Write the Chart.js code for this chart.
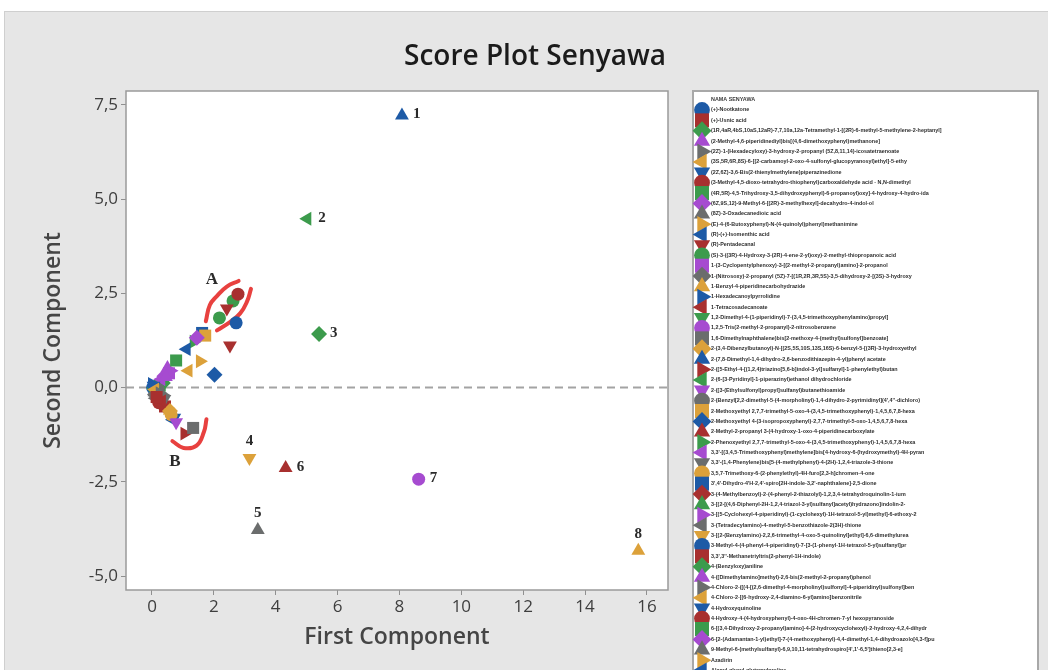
<!DOCTYPE html>
<html>
<head>
<meta charset="utf-8">
<script src="https://cdn.jsdelivr.net/npm/chart.js@4.4.1/dist/chart.umd.min.js"></script>
<style>
  html, body { margin: 0; padding: 0; background: #fff; }
  #wrap { width: 1048px; height: 670px; position: relative; }
</style>
</head>
<body>
<div id="wrap"><canvas id="scorePlot" width="1048" height="670"></canvas></div>
<script>
// compound names (legend "NAMA SENYAWA"), one point each
const compoundNames = [
  '(+)-Nootkatone',
  '(+)-Usnic acid',
  '(1R,4aR,4bS,10aS,12aR)-7,7,10a,12a-Tetramethyl-1-[(2R)-6-methyl-5-methylene-2-heptanyl]',
  '(2-Methyl-4,6-piperidinediyl)bis[(4,6-dimethoxyphenyl)methanone]',
  '(2Z)-1-(Hexadecyloxy)-3-hydroxy-2-propanyl (5Z,8,11,14)-icosatetraenoate',
  '(3S,5R,6R,8S)-6-[(2-carbamoyl-2-oxo-4-sulfonyl-glucopyranosyl)ethyl]-5-ethy',
  '(2Z,6Z)-3,6-Bis(2-thienylmethylene)piperazinedione',
  '(3-Methyl-4,5-dioxo-tetrahydro-thiophenyl)carboxaldehyde acid - N,N-dimethyl',
  '(4R,5R)-4,5-Trihydroxy-3,5-dihydroxyphenyl)-6-propanoyl)oxy]-4-hydroxy-4-hydro-ida',
  '(6Z,9S,12)-9-Methyl-6-[(2R)-3-methylhexyl]-decahydro-4-indol-ol',
  '(8Z)-3-Oxadecanedioic acid',
  '(E)-4-(6-Butoxyphenyl)-N-(4-quinolyl)phenyl)methanimine',
  '(R)-(+)-Isomenthic acid',
  '(R)-Pentadecanal',
  '(S)-3-((3R)-4-Hydroxy-3-(2R)-4-ene-2-yl)oxy)-2-methyl-thiopropanoic acid',
  '1-(3-Cyclopentylphenoxy)-3-[(2-methyl-2-propanyl)amino]-2-propanol',
  '1-(Nitrosoxy)-2-propanyl (5Z)-7-[(1R,2R,3R,5S)-3,5-dihydroxy-2-[(3S)-3-hydroxy',
  '1-Benzyl-4-piperidinecarbohydrazide',
  '1-Hexadecanoylpyrrolidine',
  '1-Tetracosadecanoate',
  '1,2-Dimethyl-4-(1-piperidinyl)-7-(3,4,5-trimethoxyphenylamino)propyl]',
  '1,2,5-Tris(2-methyl-2-propanyl)-2-nitrosobenzene',
  '1,6-Dimethylnaphthalene)bis[2-methoxy-4-(methyl)sulfonyl]benzoate]',
  '2-(3,4-Dibenzylbutanoyl)-N-[(2S,5S,10S,13S,16S)-6-benzyl-5-[(3R)-3-hydroxyethyl',
  '2-(7,8-Dimethyl-1,4-dihydro-2,6-benzodithiazepin-4-yl)phenyl acetate',
  '2-([5-Ethyl-4-[(1,2,4)triazino[5,6-b]indol-3-yl]sulfanyl]-1-phenylethyl)butan',
  '2-(6-[3-Pyridinyl]-1-piperazinyl)ethanol dihydrochloride',
  '2-([3-(Ethylsulfonyl)propyl]sulfanyl)butanethioamide',
  '2-(Benzyl[2,2-dimethyl-5-(4-morpholinyl)-1,4-dihydro-2-pyrimidinyl](4\',4\'\'-dichloro)',
  '2-Methoxyethyl 2,7,7-trimethyl-5-oxo-4-(3,4,5-trimethoxyphenyl)-1,4,5,6,7,8-hexa',
  '2-Methoxyethyl 4-(3-isopropoxyphenyl)-2,7,7-trimethyl-5-oxo-1,4,5,6,7,8-hexa',
  '2-Methyl-2-propanyl 3-(4-hydroxy-1-oxo-4-piperidinecarboxylate',
  '2-Phenoxyethyl 2,7,7-trimethyl-5-oxo-4-(3,4,5-trimethoxyphenyl)-1,4,5,6,7,8-hexa',
  '3,3\'-[(3,4,5-Trimethoxyphenyl)methylene]bis[4-hydroxy-6-(hydroxymethyl)-4H-pyran',
  '3,3\'-(1,4-Phenylene)bis[5-(4-methylphenyl)-4-(2H)-1,2,4-triazole-3-thione',
  '3,5,7-Trimethoxy-6-(2-phenylethyl)-4H-furo[2,3-h]chromen-4-one',
  '3\',4\'-Dihydro-4\'H-2,4\'-spiro[2H-indole-3,2\'-naphthalene]-2,5-dione',
  '3-(4-Methylbenzoyl)-2-(4-phenyl-2-thiazolyl)-1,2,3,4-tetrahydroquinolin-1-ium',
  '3-[(2-[(4,6-Diphenyl-2H-1,2,4-triazol-3-yl)sulfanyl]acetyl)hydrazono]indolin-2-',
  '3-[(5-Cyclohexyl-4-piperidinyl)-(1-cyclohexyl)-1H-tetrazol-5-yl)methyl]-6-ethoxy-2',
  '3-(Tetradecylamino)-4-methyl-5-benzothiazole-2(3H)-thione',
  '3-[(2-(Benzylamino)-2,2,6-trimethyl-4-oxo-5-quinolinyl]ethyl]-6,6-dimethylurea',
  '3-Methyl-4-(4-phenyl-4-piperidinyl)-7-[3-(1-phenyl-1H-tetrazol-5-yl)sulfanyl]pr',
  '3,3\',3\'\'-Methanetriyltris(2-phenyl-1H-indole)',
  '4-(Benzyloxy)aniline',
  '4-([Dimethylamino]methyl)-2,6-bis(2-methyl-2-propanyl)phenol',
  '4-Chloro-2-([(4-[(2,6-dimethyl-4-morpholinyl)sulfonyl]-4-piperidinyl)sulfonyl]ben',
  '4-Chloro-2-[(6-hydroxy-2,4-diamino-6-yl)amino]benzonitrile',
  '4-Hydroxyquinoline',
  '4-Hydroxy-4-(4-hydroxyphenyl)-4-oxo-4H-chromen-7-yl hexopyranoside',
  '6-[(3,4-Dihydroxy-2-propanyl)amino]-4-(2-hydroxycyclohexyl)-2-hydroxy-4,2,4-dihydr',
  '6-[2-(Adamantan-1-yl)ethyl]-7-(4-methoxyphenyl)-4,4-dimethyl-1,4-dihydroazolo[4,3-f]pu',
  '9-Methyl-6-(methylsulfanyl)-6,9,10,11-tetrahydrospiro[4\',1\'-6,5\']thieno[2,3-e]',
  'Azadirin',
  'Alanyl-glycyl-glutamylproline',
  'Anonaine',
  'Arecaidine'
];

// First Component scores
const pc1 = [
  2.72, 0.15, 5.40, 0.45, 0.25, 0.10, 0.05, 2.78, 0.78, 1.45,
  3.42, 1.55, 1.12, 2.42, 2.62, 0.55, 0.10, 15.72, 0.00, 0.32,
  0.05, 8.62, 1.33, 0.58, 8.08, 1.05, 5.02, 0.78, 0.20, 1.72,
  2.02, 4.32, 1.35, 0.30, 0.40, 0.62, 1.62, 0.30, 0.15, 0.60,
  0.12, 3.15, 0.02, 0.42, 0.35, 0.50, 0.35, 1.18, 0.72, 0.22,
  0.25, 0.40, 0.08, 0.50, 0.68, 2.52, 2.18
];

// Second Component scores
const pc2 = [
  1.72, -0.25, 1.42, 0.28, -0.15, -0.05, 0.05, 2.48, 0.72, 1.32,
  -3.78, 0.70, 1.02, 2.10, 2.30, 0.38, -0.18, -4.33, 0.10, -0.35,
  -0.10, -2.43, -1.07, -0.62, 7.22, -1.22, 4.48, -0.92, -0.05, 1.38,
  0.34, -2.13, 1.22, 0.22, -0.30, -0.72, 1.45, -0.42, 0.05, 0.45,
  -0.28, -1.87, 0.00, -0.50, 0.12, 0.52, -0.20, 0.45, -0.80, -0.40,
  0.05, 0.30, -0.12, -0.55, -0.85, 1.12, 1.85
];

// numbered outliers
const outlierText = ['1', '2', '3', '4', '5', '6', '7', '8'];
const outlierIndex = [24, 26, 2, 41, 10, 31, 21, 17];
const outlierSide = ['right', 'right', 'right', 'above', 'above', 'right', 'right', 'above'];

// hand marked groups
const groupText = ['A', 'B'];
const groupX = [1.94, 0.74];
const groupY = [2.86, -1.96];
const markA1x = [1.74, 1.87, 2.09, 2.42, 2.80];
const markA1y = [1.76, 2.19, 2.42, 2.68, 2.83];
const markA2x = [2.10, 2.52, 2.85, 3.07, 3.20];
const markA2y = [1.52, 1.74, 1.97, 2.28, 2.62];
const markBx = [0.66, 1.02, 1.44, 1.68, 1.76];
const markBy = [-1.42, -1.60, -1.54, -1.17, -0.84];

const xTickValues = [0, 2, 4, 6, 8, 10, 12, 14, 16];
const yTickValues = [-5, -2.5, 0, 2.5, 5, 7.5];

// minitab style cycle
const palette = ['#1d5aa6', '#a8302f', '#3c9b4c', '#a64bd0', '#6b6d6d', '#dca13a'];
const shapes = [
  { style: 'circle', rot: 0, r: 6.5 },
  { style: 'rect', rot: 0, r: 8.5 },
  { style: 'rectRot', rot: 0, r: 8 },
  { style: 'triangle', rot: 0, r: 8 },
  { style: 'triangle', rot: 90, r: 8 },
  { style: 'triangle', rot: 270, r: 8 },
  { style: 'triangle', rot: 180, r: 8 }
];

const datasets = [];
for (let i = 0; i < compoundNames.length; i++) {
  const shp = shapes[i % shapes.length];
  const col = palette[i % palette.length];
  datasets.push({
    label: compoundNames[i],
    data: [{ x: pc1[i], y: pc2[i] }],
    pointStyle: shp.style,
    pointRotation: shp.rot,
    pointRadius: shp.r,
    pointHoverRadius: shp.r,
    pointBackgroundColor: col,
    pointBorderWidth: 0,
    backgroundColor: col,
    borderColor: col
  });
}

function markLine(xs, ys) {
  return {
    label: '',
    isMark: true,
    data: xs.map((v, k) => ({ x: v, y: ys[k] })),
    showLine: true,
    tension: 0.45,
    borderColor: '#e8413f',
    borderWidth: 4,
    borderCapStyle: 'round',
    pointRadius: 0,
    pointHoverRadius: 0
  };
}
datasets.push(markLine(markA1x, markA1y));
datasets.push(markLine(markA2x, markA2y));
datasets.push(markLine(markBx, markBy));

const backdrop = {
  id: 'backdrop',
  beforeDraw(chart) {
    const { ctx, chartArea: a } = chart;
    ctx.save();
    ctx.fillStyle = '#ffffff';
    ctx.fillRect(0, 0, chart.width, chart.height);
    ctx.fillStyle = '#e6e6e6';
    ctx.fillRect(4, 11, chart.width - 4, chart.height - 11);
    ctx.strokeStyle = '#cfcfcf';
    ctx.lineWidth = 1;
    ctx.strokeRect(4.5, 11.5, chart.width, chart.height);
    ctx.fillStyle = '#ffffff';
    ctx.fillRect(a.left, a.top, a.right - a.left, a.bottom - a.top);

    ctx.fillStyle = '#1b1b1b';
    ctx.font = '600 28px "Open Sans"';
    ctx.textAlign = 'center';
    ctx.textBaseline = 'middle';
    ctx.fillText('Score Plot Senyawa', 535, 57);
    ctx.restore();
  },
  beforeDatasetsDraw(chart) {
    const { ctx, chartArea: a, scales } = chart;
    const y0 = scales.y.getPixelForValue(0);
    ctx.save();
    ctx.strokeStyle = '#a3a3a3';
    ctx.lineWidth = 2;
    ctx.setLineDash([8, 5]);
    ctx.beginPath();
    ctx.moveTo(a.left, y0);
    ctx.lineTo(a.right, y0);
    ctx.stroke();
    ctx.setLineDash([]);
    ctx.strokeStyle = '#9a9a9a';
    ctx.lineWidth = 1.5;
    ctx.strokeRect(a.left, a.top, a.right - a.left, a.bottom - a.top);
    ctx.restore();
  }
};

const annotations = {
  id: 'annotations',
  afterDatasetsDraw(chart) {
    const { ctx, scales } = chart;
    ctx.save();
    ctx.fillStyle = '#2a2a2a';
    ctx.font = 'bold 15px "Liberation Serif"';
    ctx.textBaseline = 'middle';
    outlierText.forEach((t, k) => {
      const i = outlierIndex[k];
      const px = scales.x.getPixelForValue(pc1[i]);
      const py = scales.y.getPixelForValue(pc2[i]);
      if (outlierSide[k] === 'right') {
        ctx.textAlign = 'left';
        ctx.fillText(t, px + 11, py - 1);
      } else {
        ctx.textAlign = 'center';
        ctx.fillText(t, px, py - 17);
      }
    });
    ctx.font = 'bold 17px "Liberation Serif"';
    ctx.textAlign = 'center';
    groupText.forEach((t, k) => {
      ctx.fillText(t, scales.x.getPixelForValue(groupX[k]), scales.y.getPixelForValue(groupY[k]));
    });
    ctx.restore();
  }
};

const sideLegend = {
  id: 'sideLegend',
  afterDraw(chart) {
    const { ctx } = chart;
    const left = 693, top = 91, right = 1038;
    ctx.save();
    ctx.fillStyle = '#ffffff';
    ctx.fillRect(left, top, right - left, chart.height - top + 10);
    ctx.strokeStyle = '#a8a8a8';
    ctx.lineWidth = 2;
    ctx.strokeRect(left, top, right - left, chart.height - top + 10);

    ctx.fillStyle = '#3a3a3a';
    ctx.font = 'bold 5.4px "Liberation Sans"';
    ctx.textAlign = 'left';
    ctx.textBaseline = 'middle';
    ctx.fillText('NAMA SENYAWA', 711, 100);

    let row = 0;
    chart.data.datasets.forEach(ds => {
      if (ds.isMark) return;
      const y = 110 + row * 10.38;
      ctx.fillStyle = ds.pointBackgroundColor;
      Chart.helpers.drawPoint(ctx, {
        pointStyle: ds.pointStyle,
        rotation: ds.pointRotation,
        radius: ds.pointRadius + 1.4,
        borderWidth: 0
      }, 702, y);
      ctx.fillStyle = '#2f2f2f';
      ctx.fillText(ds.label, 711, y);
      row++;
    });
    ctx.restore();
  }
};

const tickFont = { family: 'Open Sans', size: 17 };
const axisTitleFont = { family: 'Open Sans', size: 23, weight: '600' };

new Chart(document.getElementById('scorePlot'), {
  type: 'scatter',
  data: { datasets: datasets },
  options: {
    responsive: false,
    animation: false,
    devicePixelRatio: 1,
    layout: { padding: { left: 0, top: 91, right: 380, bottom: 0 } },
    plugins: {
      legend: { display: false },
      tooltip: { enabled: false },
      title: { display: false }
    },
    scales: {
      x: {
        type: 'linear',
        min: -0.84,
        max: 16.68,
        afterFit(s) { s.height = 80; },
        afterBuildTicks(s) { s.ticks = xTickValues.map(v => ({ value: v })); },
        grid: { drawOnChartArea: false, drawTicks: true, tickLength: 5, color: '#8f8f8f' },
        border: { display: false },
        ticks: { font: tickFont, color: '#3e3e3e', padding: 2, callback: v => String(v) },
        title: { display: true, text: 'First Component', font: axisTitleFont, color: '#454545', padding: { bottom: 19 } }
      },
      y: {
        type: 'linear',
        min: -5.37,
        max: 7.87,
        afterFit(s) { s.width = 126; },
        afterBuildTicks(s) { s.ticks = yTickValues.map(v => ({ value: v })); },
        grid: { drawOnChartArea: false, drawTicks: true, tickLength: 5, color: '#8f8f8f' },
        border: { display: false },
        ticks: { font: tickFont, color: '#3e3e3e', padding: 3, callback: v => v.toFixed(1).replace('.', ',') },
        title: { display: true, text: 'Second Component', font: axisTitleFont, color: '#454545', padding: { top: 40 } }
      }
    }
  },
  plugins: [backdrop, annotations, sideLegend]
});
</script>
</body>
</html>
